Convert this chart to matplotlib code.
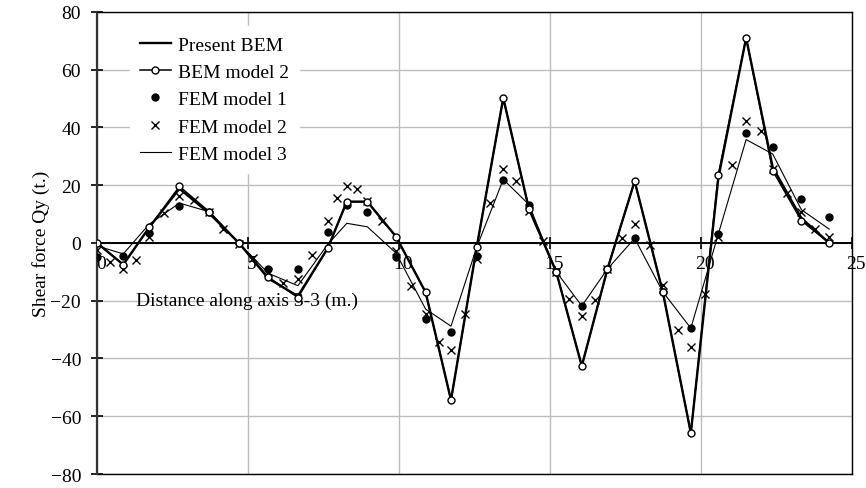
import matplotlib.pyplot as plt
import matplotlib.transforms as mtransforms
from matplotlib.lines import Line2D

# node positions along axis 3-3 (m.)
x_nodes = [0, 0.87, 1.73, 2.73, 3.72, 4.70, 5.67, 6.65, 7.64, 8.27, 8.95, 9.90,
           10.88, 11.72, 12.57, 13.45, 14.30, 15.20, 16.05, 16.90, 17.80, 18.73,
           19.66, 20.57, 21.49, 22.37, 23.32, 24.24]

present_bem = [0, -7.5, 5.4, 18.8, 10.2, 0, -12.3, -18.4, -1.8, 14.3, 14.3, 2.2,
               -17.1, -54.4, -1.5, 50.2, 11.8, -9.9, -42.6, -9.0, 21.4, -16.9,
               -65.8, 22.5, 71.0, 26.2, 8.6, 0]
bem_model2 = [0, -7.5, 5.4, 19.6, 10.8, 0, -11.8, -18.9, -1.8, 14.3, 14.3, 2.2,
              -17.1, -54.4, -1.5, 50.2, 11.8, -9.9, -42.6, -9.0, 21.4, -16.9,
              -65.8, 23.7, 71.0, 25.0, 7.7, 0]
fem_model1 = [-4.7, -4.4, 3.5, 12.9, 10.6, 0, -9.0, -9.0, 3.7, 13.2, 10.8, -4.7,
              -26.3, -30.9, -4.4, 21.8, 13.3, -9.9, -21.8, -9.0, 1.6, -16.9,
              -29.5, 3.1, 38.0, 33.1, 15.2, 9.1]
fem_model3 = [-1.0, -3.8, 6.5, 13.8, 10.8, 0, -10.5, -14.8, -0.5, 6.8, 5.6, -3.5,
              -22.9, -28.8, -1.5, 22.0, 13.3, -9.9, -21.8, -9.0, 1.6, -16.9,
              -29.5, 3.1, 35.8, 30.8, 11.5, 4.8]

# FEM model 2 has mid-side nodes as well
x_fem2 = [0, 0.43, 0.87, 1.30, 1.73, 2.23, 2.73, 3.20, 3.72, 4.18, 4.70, 5.18,
          5.67, 6.15, 6.65, 7.13, 7.64, 7.96, 8.27, 8.62, 8.95, 9.43, 9.90, 10.39,
          10.88, 11.32, 11.72, 12.17, 12.57, 13.02, 13.45, 13.87, 14.30, 14.75,
          15.20, 15.62, 16.05, 16.48, 16.90, 17.38, 17.80, 18.30, 18.73, 19.22,
          19.66, 20.12, 20.57, 21.02, 21.49, 21.98, 22.37, 22.83, 23.32, 23.77,
          24.24]
fem_model2 = [-2.5, -6.7, -9.0, -5.8, 2.0, 10.3, 16.3, 15.0, 10.6, 5.0, -0.5, -5.3,
              -10.0, -13.8, -12.6, -4.3, 7.5, 15.5, 19.8, 18.6, 14.5, 7.7, -2.7, -14.8,
              -24.6, -34.4, -37.1, -24.6, -5.5, 13.9, 25.6, 21.6, 11.0, 0.6,
              -9.9, -19.4, -25.3, -19.8, -9.0, 1.7, 6.6, -0.6, -14.5, -30.1,
              -36.1, -17.5, 2.0, 27.0, 42.4, 38.6, 25.6, 17.2, 10.6, 4.8,
              2.2]

x_ticks = [0, 5, 10, 15, 20, 25]
y_ticks = [-80, -60, -40, -20, 0, 20, 40, 60, 80]

plt.rcParams['font.family'] = ['Liberation Serif', 'DejaVu Serif']
plt.rcParams['font.size'] = 14

fig = plt.figure(figsize=(8.66, 4.89), dpi=100)
ax = fig.add_axes([0.112, 0.0286, 0.872, 0.945])

ax.plot(x_nodes, present_bem, color='black', lw=1.7, label='Present BEM', zorder=4)
ax.plot(x_nodes, bem_model2, color='black', lw=1.1, marker='o', ms=5,
        mfc='white', mec='black', mew=1.0, label='BEM model 2', zorder=6)
ax.plot(x_nodes, fem_model1, ls='none', marker='o', ms=5, color='black',
        label='FEM model 1', zorder=5)
ax.plot(x_fem2, fem_model2, ls='none', marker='x', ms=6, mew=1.0, color='black',
        label='FEM model 2', zorder=5)
ax.plot(x_nodes, fem_model3, color='black', lw=0.8, label='FEM model 3', zorder=3)

ax.set_xlim(0, 25)
ax.set_ylim(-80, 80)
ax.set_xticks(x_ticks)
ax.set_yticks(y_ticks)
ax.set_yticklabels([str(v).replace('-', '\u2212') for v in y_ticks])
ax.set_xticklabels([str(v) for v in x_ticks])

ax.grid(True, color='#bdbdbd', lw=1.0, zorder=0)

# x axis sits on the zero line, frame kept around the plot
ax.spines['bottom'].set_position(('data', 0))
ax.spines['bottom'].set_linewidth(1.4)
ax.spines['left'].set_linewidth(1.6)
ax.spines['left'].set_color('#333333')
ax.spines['top'].set_linewidth(1.0)
ax.spines['right'].set_linewidth(1.0)
ax.add_line(Line2D([0, 1], [0, 0], transform=ax.transAxes, color='black',
                   lw=1.0, clip_on=False))

ax.tick_params(axis='x', direction='inout', length=9, width=1.2, pad=4)
ax.tick_params(axis='y', direction='inout', length=9, width=1.2, pad=7)

# x tick labels sit a little to the right of their ticks
shift = mtransforms.ScaledTranslation(4 / 100, 0, fig.dpi_scale_trans)
for lbl in ax.get_xticklabels():
    lbl.set_transform(lbl.get_transform() + shift)

ax.set_ylabel('Shear force Qy (t.)', labelpad=0)
ax.text(1.3, -20, 'Distance along axis 3-3 (m.)', va='center', ha='left')

leg = ax.legend(loc='upper left', bbox_to_anchor=(0.031, 0.99), frameon=True,
                fancybox=False, edgecolor='white', facecolor='white',
                framealpha=1, handlelength=1.6, handletextpad=0.35,
                labelspacing=0.5, borderpad=0.5)
leg.set_zorder(10)

fig.savefig('out.png', dpi=100)
